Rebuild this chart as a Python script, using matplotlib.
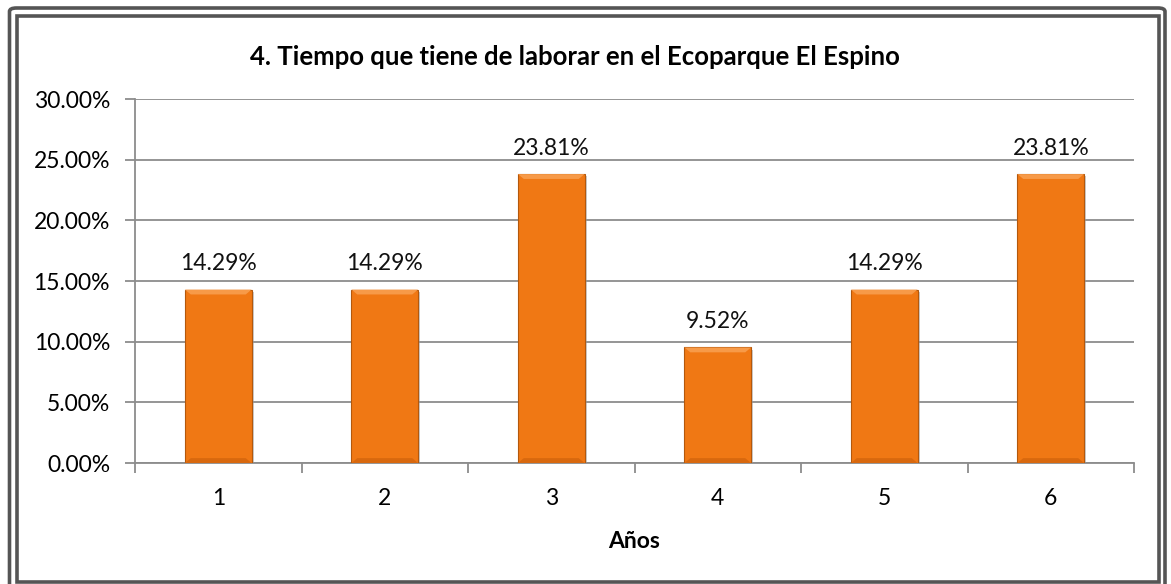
import matplotlib

matplotlib.use("Agg")
import matplotlib.pyplot as plt
from matplotlib.patches import Rectangle, FancyBboxPatch, Polygon
import matplotlib.patheffects as pe
import numpy as np

# data
categories = ["1", "2", "3", "4", "5", "6"]
values = [14.29, 14.29, 23.81, 9.52, 14.29, 23.81]
value_labels = ["14.29%", "14.29%", "23.81%", "9.52%", "14.29%", "23.81%"]
y_ticks = [0, 5, 10, 15, 20, 25, 30]

TITLE = "4. Tiempo que tiene de laborar en el Ecoparque El Espino"
XLABEL = "Años"

BAR_FACE = "#F07814"
BAR_EDGE = "#B4580C"
GRID = "#8c8c8c"
FRAME = "#555555"
FS = 16.5

plt.rcParams["font.family"] = ["Lato", "DejaVu Sans"]

W, H = 1171, 584
fig = plt.figure(figsize=(W / 100, H / 100), dpi=100)

ax = fig.add_axes([135 / W, 1 - 463 / H, (1134 - 135) / W, (463 - 99) / H])

x = np.arange(len(categories))
bw = 0.4
ax.bar(x, values, width=bw, color=BAR_FACE, edgecolor=BAR_EDGE,
       linewidth=0.8, zorder=3,
       path_effects=[pe.SimplePatchShadow(offset=(1.5, -1.5),
                                          shadow_rgbFace="#999999", alpha=0.5),
                     pe.Normal()])

# bevel hint: lighter strip at top, darker at bottom
for xi, v, lab in zip(x, values, value_labels):
    dy = 0.4
    dx = 0.035
    top = Polygon([(xi - bw / 2, v), (xi + bw / 2, v),
                   (xi + bw / 2 - dx, v - dy), (xi - bw / 2 + dx, v - dy)],
                  closed=True, facecolor="#F79A48", edgecolor="none", zorder=4)
    bot = Polygon([(xi - bw / 2, 0), (xi + bw / 2, 0),
                   (xi + bw / 2 - dx, dy), (xi - bw / 2 + dx, dy)],
                  closed=True, facecolor="#D8680E", edgecolor="none", zorder=4)
    ax.add_patch(top)
    ax.add_patch(bot)
    ax.annotate(lab, (xi, v), xytext=(0, 11), textcoords="offset points",
                ha="center", va="bottom", fontsize=FS, color="#111111", zorder=5)

ax.set_xlim(-0.5, len(categories) - 0.5)
ax.set_ylim(0, 30)
ax.set_yticks(y_ticks)
ax.set_yticklabels([f"{t:.2f}%" for t in y_ticks], fontsize=FS)
ax.yaxis.grid(True, color=GRID, linewidth=1.3, zorder=0)
ax.set_axisbelow(True)

ax.set_xticks(x)
ax.set_xticklabels(categories, fontsize=FS)
ax.set_xticks(np.arange(-0.5, len(categories)), minor=True)
ax.tick_params(axis="x", which="major", length=0, pad=18)
ax.tick_params(axis="x", which="minor", length=7, width=1.3, color=GRID)
ax.tick_params(axis="y", length=7, width=1.3, color=GRID, pad=11)

for s in ("top", "right"):
    ax.spines[s].set_visible(False)
for s in ("left", "bottom"):
    ax.spines[s].set_color(GRID)
    ax.spines[s].set_linewidth(1.3)

ax.set_xlabel(XLABEL, fontsize=FS, fontweight="bold", labelpad=16)
fig.text(575 / W, 1 - 57 / H, TITLE, ha="center", va="center",
         fontsize=18.5, fontweight="bold")

# double frame around the chart
outer = FancyBboxPatch((9.5 / W, -10 / H), (1165 - 9.5) / W, (594 - 8) / H,
                       boxstyle="round,pad=0,rounding_size=0.006",
                       transform=fig.transFigure, fill=False,
                       edgecolor=FRAME, linewidth=2.6)
inner = Rectangle((16.5 / W, 1 - 581.5 / H), (1159 - 16.5) / W, (581.5 - 15.5) / H,
                  transform=fig.transFigure, fill=False,
                  edgecolor=FRAME, linewidth=2.6)
fig.patches.extend([outer, inner])

fig.savefig("out.png", dpi=100)
